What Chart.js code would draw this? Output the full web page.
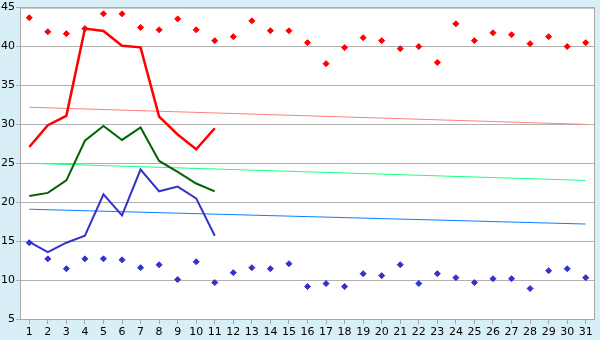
<!DOCTYPE html>
<html>
<head>
<meta charset="utf-8">
<script src="https://cdn.jsdelivr.net/npm/chart.js"></script>
<style>
  body { margin: 0; background: #d9eff7; }
  #wrap { width: 600px; height: 340px; }
</style>
</head>
<body>
<div id="wrap"><canvas id="myChart" width="600" height="340"></canvas></div>
<script>
let days = ['1','2','3','4','5','6','7','8','9','10','11','12','13','14','15','16',
            '17','18','19','20','21','22','23','24','25','26','27','28','29','30','31'];
let yTicks = [5, 10, 15, 20, 25, 30, 35, 40, 45];

/* daily extremes (diamonds) */
let maxPoints = [43.7, 41.9, 41.65, 42.3, 44.2, 44.2, 42.45, 42.15, 43.55, 42.15, 40.75,
                 41.26, 43.3, 42.03, 42.03, 40.5, 37.8, 39.86, 41.14, 40.75, 39.73, 40.0,
                 37.95, 42.92, 40.75, 41.77, 41.52, 40.37, 41.26, 40.0, 40.5];
let minPoints = [14.8, 12.73, 11.46, 12.73, 12.73, 12.6, 11.59, 11.97, 10.06, 12.35, 9.68,
                 10.95, 11.59, 11.46, 12.1, 9.17, 9.55, 9.17, 10.82, 10.57, 11.97, 9.55,
                 10.82, 10.31, 9.68, 10.18, 10.18, 8.91, 11.2, 11.46, 10.31];

/* measured lines, days 1-11 */
let redLine   = [27.1, 29.9, 31.1, 42.3, 42.0, 40.1, 39.9, 31.0, 28.7, 26.8, 29.5];
let greenLine = [20.8, 21.2, 22.8, 27.9, 29.8, 28.0, 29.6, 25.3, 23.9, 22.4, 21.4];
let blueLine  = [14.9, 13.6, 14.8, 15.7, 21.0, 18.3, 24.2, 21.4, 22.0, 20.5, 15.7];

/* trend lines: value at day 1 and day 31 */
let redTrend   = [32.2, 30.0];
let greenTrend = [25.0, 22.8];
let blueTrend  = [19.1, 17.2];

function ends(pair) {
  let arr = days.map(() => null);
  arr[0] = pair[0];
  arr[days.length - 1] = pair[1];
  return arr;
}

let plotBg = {
  id: 'plotBg',
  beforeDraw(chart) {
    let a = chart.chartArea, c = chart.ctx;
    c.save();
    c.fillStyle = '#d9eff7';
    c.fillRect(0, 0, chart.width, chart.height);
    c.fillStyle = '#ffffff';
    c.fillRect(a.left, a.top, a.right - a.left, a.bottom - a.top);
    c.restore();
  },
  afterDraw(chart) {
    let a = chart.chartArea, c = chart.ctx;
    c.save();
    c.strokeStyle = '#a8a8a8';
    c.lineWidth = 1;
    c.strokeRect(a.left + 0.5, a.top + 0.5, a.right - a.left - 1, a.bottom - a.top);
    c.restore();
  }
};

let ctx = document.getElementById('myChart').getContext('2d');
let chart = new Chart(ctx, {
  type: 'line',
  data: {
    labels: days,
    datasets: [
      { data: ends(redTrend), borderColor: '#ff8080', borderWidth: 1, pointRadius: 0, spanGaps: true, order: 5 },
      { data: ends(greenTrend), borderColor: '#1aff80', borderWidth: 1, pointRadius: 0, spanGaps: true, order: 5 },
      { data: ends(blueTrend), borderColor: '#0a80ff', borderWidth: 1, pointRadius: 0, spanGaps: true, order: 5 },
      { data: redLine, borderColor: '#ff0000', borderWidth: 2.5, pointRadius: 0, order: 2 },
      { data: greenLine, borderColor: '#006400', borderWidth: 2, pointRadius: 0, order: 2 },
      { data: blueLine, borderColor: '#3333cc', borderWidth: 2, pointRadius: 0, order: 2 },
      { data: maxPoints, showLine: false, pointStyle: 'rectRot', pointRadius: 3,
        backgroundColor: '#ff0000', borderColor: '#ff0000', borderWidth: 1, order: 1 },
      { data: minPoints, showLine: false, pointStyle: 'rectRot', pointRadius: 3,
        backgroundColor: '#3333cc', borderColor: '#3333cc', borderWidth: 1, order: 1 }
    ]
  },
  options: {
    responsive: false,
    animation: false,
    layout: { padding: { top: 5, right: 5, left: 0, bottom: 0 } },
    plugins: { legend: { display: false }, tooltip: { enabled: false } },
    elements: { line: { tension: 0 } },
    scales: {
      x: {
        type: 'category',
        offset: true,
        grid: { display: true, drawOnChartArea: false, drawTicks: true, tickLength: 5, color: '#a8a8a8', offset: false },
        border: { display: false },
        ticks: { color: '#000', font: { family: 'DejaVu Sans', size: 11 }, padding: 2, maxRotation: 0, autoSkip: false },
        afterFit(s) { s.height = 21; }
      },
      y: {
        min: 5, max: 45,
        afterBuildTicks(s) { s.ticks = yTicks.map(v => ({ value: v })); },
        grid: { color: '#b0b0b0', drawTicks: true, tickLength: 4 },
        border: { display: false },
        ticks: { color: '#000', font: { family: 'DejaVu Sans', size: 11 }, padding: 1 },
        afterFit(s) { s.width = 20; }
      }
    }
  },
  plugins: [plotBg]
});
</script>
</body>
</html>
